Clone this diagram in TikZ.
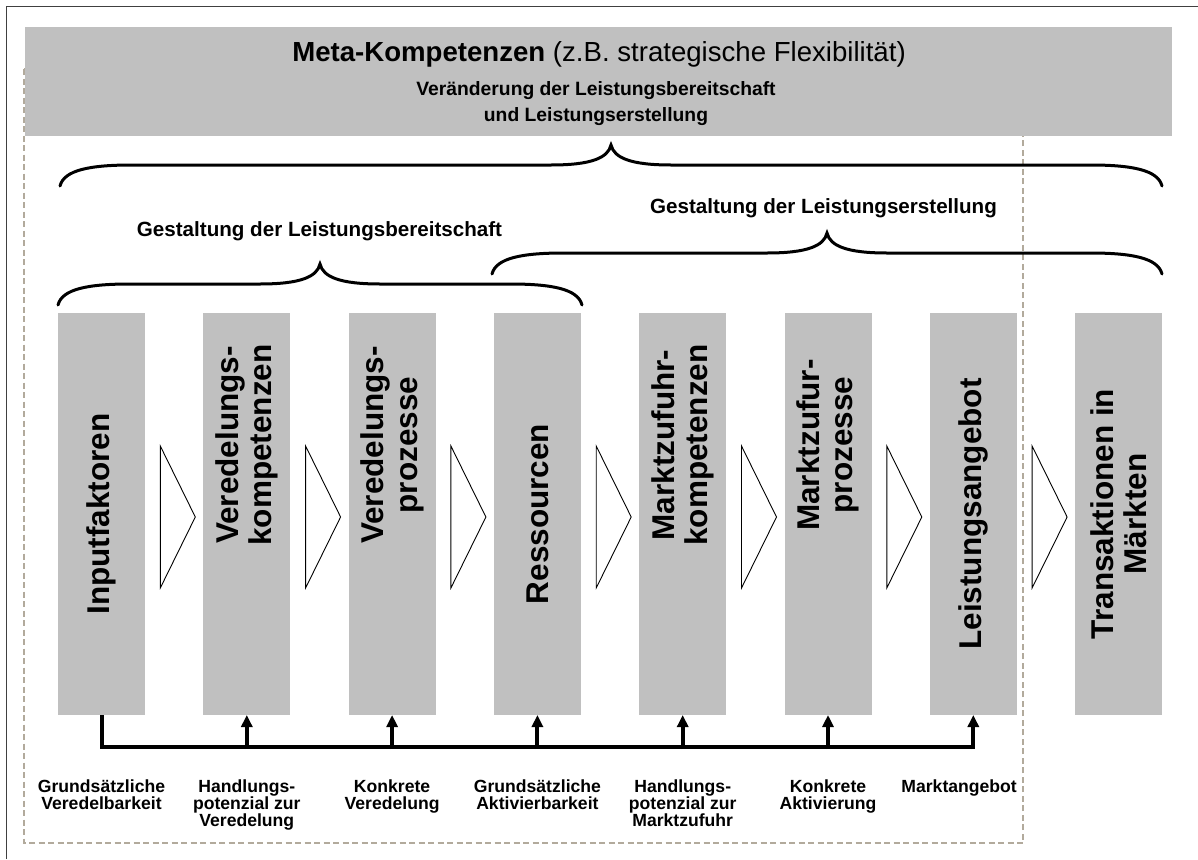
\documentclass[tikz,border=0pt]{standalone}
\usepackage{fontspec}
\setmainfont{Liberation Sans}
\usetikzlibrary{arrows.meta,calc}
\definecolor{boxgray}{RGB}{192,192,192}
\definecolor{dashgray}{RGB}{178,170,156}
% curly brace opening downwards: left x, tip x, right x, y of the straight parts
\newcommand\hbrace[4]{%
  \draw[brace] (#1,#4+21) .. controls (#1+4,#4+5) and (#1+30,#4) .. (#1+72,#4)
     -- (#2-60,#4) .. controls (#2-20,#4) and (#2-3,#4-7) .. (#2,#4-20)
     .. controls (#2+3,#4-7) and (#2+20,#4) .. (#2+60,#4)
     -- (#3-72,#4) .. controls (#3-30,#4) and (#3-4,#4+5) .. (#3,#4+21);}
\begin{document}
\begin{tikzpicture}[x=1pt,y=-1pt,
  stage/.style={fill=boxgray, minimum width=87pt, minimum height=402pt, inner sep=0pt, outer sep=0pt},
  stagetext/.style={rotate=90, align=center, inner sep=0pt,
    font=\fontsize{31.5}{33.5}\selectfont\bfseries},
  chevron/.style={draw=black, fill=white, line width=0.9pt, line join=miter},
  brace/.style={line width=3pt, line cap=round},
  bus/.style={line width=4pt, line join=miter},
  busarrow/.style={line width=4pt, -{Triangle[length=12pt,width=11pt]}},
  note/.style={align=center, anchor=north, inner sep=0pt,
    font=\fontsize{17.6}{16.8}\selectfont\bfseries},
  heading/.style={anchor=base, inner sep=0pt, font=\fontsize{20.6}{24}\selectfont\bfseries}]

\useasboundingbox (0,0) rectangle (1198,859);
\fill[white] (0,0) rectangle (1198,859);

% outer frame
\draw[line width=1pt, black!75] (6,859) -- (6,7) -- (1198,7);

% dashed area of the value creation
\draw[dashgray, line width=2pt, dash pattern=on 6pt off 3.5pt] (24,69) rectangle (1023,843);

% meta competences bar
\node[fill=boxgray, minimum width=1147pt, minimum height=109pt, inner sep=0pt,
      anchor=north west] (meta) at (25,27) {};
\node[anchor=base, inner sep=0pt, font=\fontsize{27.6}{33}\selectfont] (title) at (599,62)
  {\textbf{Meta-Kompetenzen} (z.B. strategische Flexibilität)};
\node[anchor=north, align=center, inner sep=0pt, font=\fontsize{19.3}{26}\selectfont\bfseries]
  (change) at (596,81) {Veränderung der Leistungsbereitschaft\\und Leistungserstellung};

% braces
\hbrace{60}{611}{1162}{165}
\hbrace{58}{320}{582}{284}
\hbrace{492}{827}{1162}{253}
\node[heading] (designA) at (319.5,236) {Gestaltung der Leistungsbereitschaft};
\node[heading] (designB) at (823.5,213) {Gestaltung der Leistungserstellung};

% stages
\foreach \i in {1,...,8}
  \node[stage] (b\i) at ({101.5+145.3*(\i-1)},514) {};
\node[stagetext] (t1) at (b1) {Inputfaktoren};
\node[stagetext] (t2) at ([yshift=69pt]b2.center) {Veredelungs-\\kompetenzen};
\node[stagetext] (t3) at ([yshift=69pt]b3.center) {Veredelungs-\\prozesse};
\node[stagetext] (t4) at (b4) {Ressourcen};
\node[stagetext] (t5) at ([yshift=69pt]b5.center) {Marktzufuhr-\\kompetenzen};
\node[stagetext] (t6) at ([yshift=69pt]b6.center) {Marktzufur-\\prozesse};
\node[stagetext] (t7) at (b7) {Leistungsangebot};
\node[stagetext] (t8) at (b8) {Transaktionen in\\Märkten};

% chevrons between the stages
\foreach \i in {2,...,8}
  \draw[chevron] ($(b\i.west)+(-43,-68)$) -- ($(b\i.west)+(-8,3)$)
                 -- ($(b\i.west)+(-43,74)$) -- cycle;

% feedback bus
\coordinate (bus) at (0,747);
\coordinate (notes) at (0,780);
\draw[bus] (b1.south) -- (b1.south |- bus) -- (b7.south |- bus);
\foreach \i in {2,...,7}
  \draw[busarrow] ($(b\i.south |- bus)+(0,2)$) -- (b\i.south);

% notes below the bus
\node[note] (n1) at (b1.south |- notes) {Grundsätzliche\\Veredelbarkeit};
\node[note] (n2) at (b2.south |- notes) {Handlungs-\\potenzial zur\\Veredelung};
\node[note] (n3) at (b3.south |- notes) {Konkrete\\Veredelung};
\node[note] (n4) at (b4.south |- notes) {Grundsätzliche\\Aktivierbarkeit};
\node[note] (n5) at (b5.south |- notes) {Handlungs-\\potenzial zur\\Marktzufuhr};
\node[note] (n6) at (b6.south |- notes) {Konkrete\\Aktivierung};
\node[note, anchor=north east] (n7) at (1017,780) {Marktangebot};
\end{tikzpicture}
\end{document}
